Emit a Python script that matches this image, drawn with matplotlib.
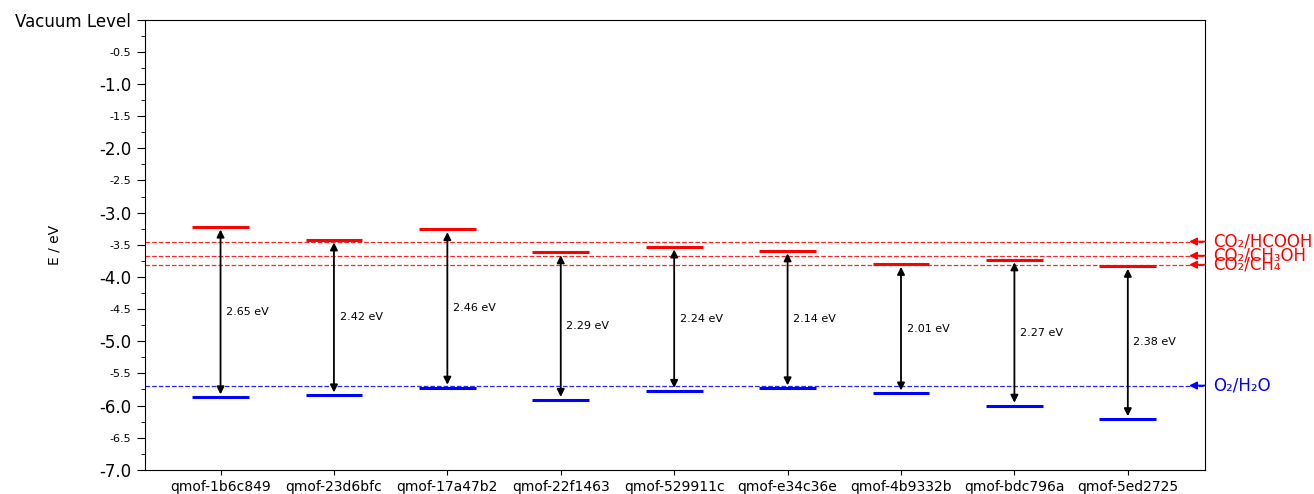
import matplotlib.pyplot as plt
import numpy as np

# Estructuras y niveles de banda (eV frente al vacío)
materiales = ['qmof-1b6c849', 'qmof-23d6bfc', 'qmof-17a47b2', 'qmof-22f1463',
              'qmof-529911c', 'qmof-e34c36e', 'qmof-4b9332b', 'qmof-bdc796a',
              'qmof-5ed2725']
banda_conduccion = [-3.22, -3.42, -3.26, -3.62, -3.53, -3.59, -3.80, -3.73, -3.83]
gap = [2.65, 2.42, 2.46, 2.29, 2.24, 2.14, 2.01, 2.27, 2.38]

# Potenciales redox de referencia
redox_etiquetas = ['CO₂/HCOOH', 'CO₂/CH₃OH', 'CO₂/CH₄', 'O₂/H₂O']
redox_valores = [-3.45, -3.67, -3.81, -5.69]
redox_colores = ['red', 'red', 'red', 'blue']

banda_valencia = [cb - g for cb, g in zip(banda_conduccion, gap)]

fig = plt.figure(figsize=(13.14, 4.94), dpi=100)
ax = fig.add_axes([0.110, 0.049, 0.807, 0.911])

x = np.arange(len(materiales))
ancho = 0.25

for xi, cb, vb, g in zip(x, banda_conduccion, banda_valencia, gap):
    ax.hlines(cb, xi - ancho, xi + ancho, color='red', linewidth=2.2)
    ax.hlines(vb, xi - ancho, xi + ancho, color='blue', linewidth=2.2)
    ax.annotate('', xy=(xi, vb), xytext=(xi, cb),
                arrowprops=dict(arrowstyle='<|-|>', color='black', lw=1.3,
                                mutation_scale=11, shrinkA=2, shrinkB=2))
    ax.text(xi + 0.05, (cb + vb) / 2, f'{g:.2f} eV', fontsize=8,
            va='center', ha='left')

for etiqueta, valor, color in zip(redox_etiquetas, redox_valores, redox_colores):
    ax.axhline(valor, color=color, linestyle='--', linewidth=0.9, alpha=0.85)
    ax.annotate('', xy=(0.985, valor), xycoords=('axes fraction', 'data'),
                xytext=(1.0, valor), textcoords=('axes fraction', 'data'),
                arrowprops=dict(arrowstyle='-|>', color=color, lw=1.3,
                                mutation_scale=11, shrinkA=0, shrinkB=0),
                annotation_clip=False)
    ax.text(1.0075, valor, etiqueta, transform=ax.get_yaxis_transform(),
            color=color, fontsize=12, va='center', ha='left')

ax.set_xlim(-0.67, 8.68)
ax.set_ylim(-7.0, 0.0)
ax.set_xticks(x)
ax.set_xticklabels(materiales, fontsize=10)

# Ticks del eje Y: enteros grandes, medios pequeños
yticks = np.arange(0, -7.01, -0.5)
ax.set_yticks(yticks)
ax.set_yticks(np.arange(0, -7.01, -0.25), minor=True)
etiquetas_y = []
for v in yticks:
    if v == 0:
        etiquetas_y.append('Vacuum Level')
    else:
        etiquetas_y.append(f'{v:.1f}')
ax.set_yticklabels(etiquetas_y)
for v, lab in zip(yticks, ax.get_yticklabels()):
    lab.set_fontsize(12 if abs(v - round(v)) < 1e-9 else 8)
ax.tick_params(axis='y', which='major', length=6)
ax.tick_params(axis='y', which='minor', length=3)
ax.set_ylabel('E / eV', fontsize=10)
ax.yaxis.set_label_coords(-0.078, 0.5)

fig.savefig('out.png', dpi=100)
